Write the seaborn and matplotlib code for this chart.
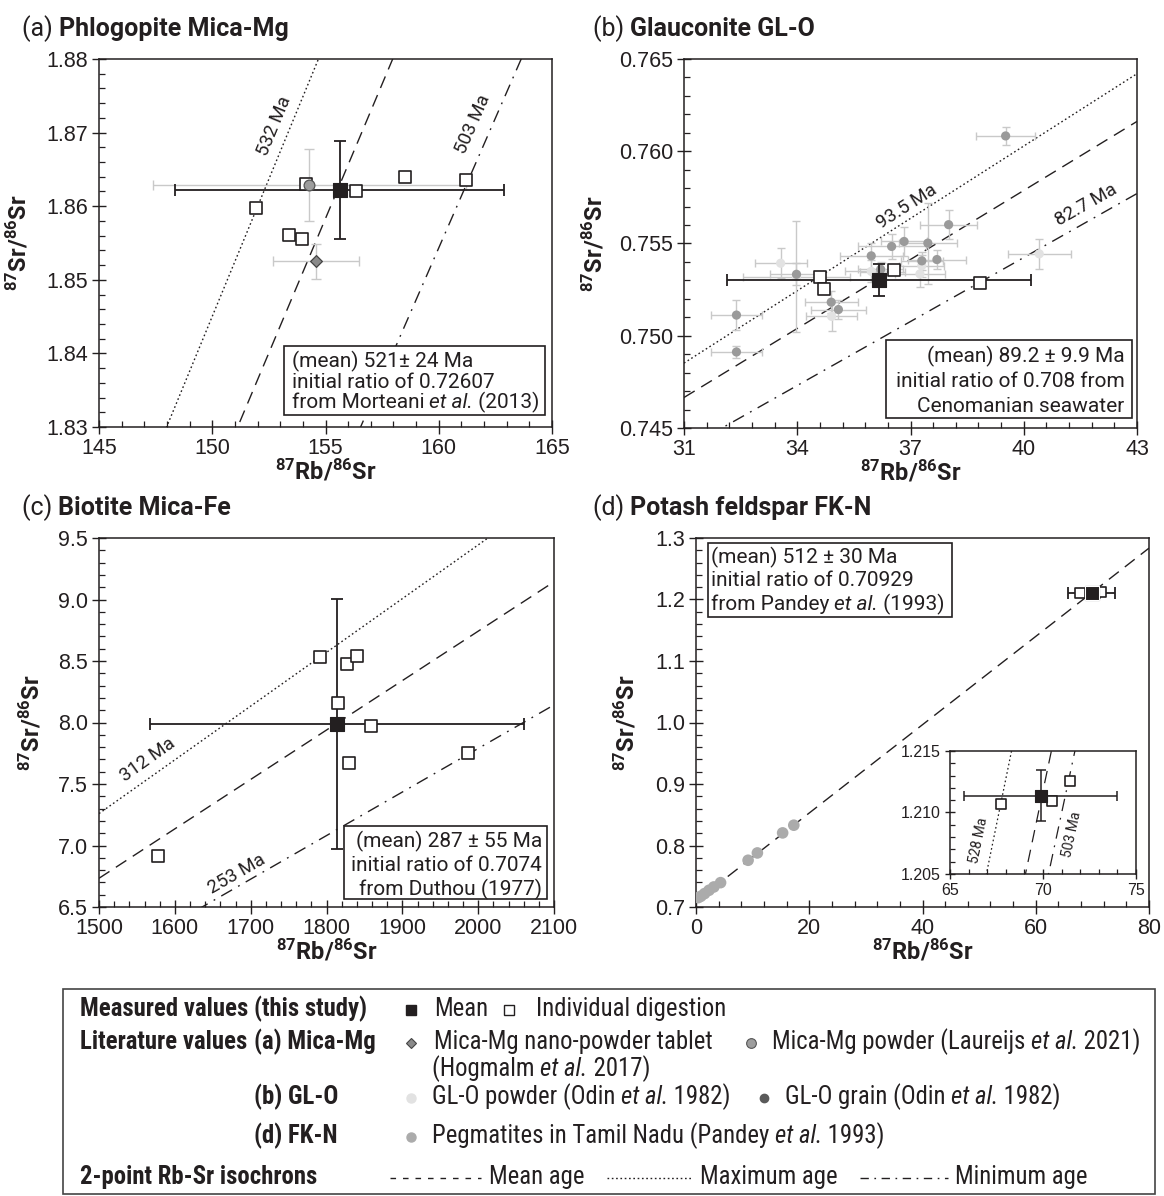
import numpy as np
import pandas as pd
import matplotlib
matplotlib.use("Agg")
import matplotlib.pyplot as plt
import seaborn as sns
from matplotlib.patches import Rectangle
from matplotlib.ticker import MultipleLocator, FormatStrFormatter
from matplotlib.transforms import IdentityTransform
from matplotlib import font_manager as fm

sns.set_theme(style="ticks")
plt.rcParams["font.family"] = ["Roboto", "DejaVu Sans"]
plt.rcParams["mathtext.fontset"] = "custom"
plt.rcParams["mathtext.rm"] = "Roboto"
plt.rcParams["mathtext.it"] = "Roboto:italic"
plt.rcParams["mathtext.bf"] = "Roboto:bold"
plt.rcParams["lines.scale_dashes"] = False
plt.rcParams["axes.linewidth"] = 1.1
plt.rcParams["axes.edgecolor"] = "#231f20"

INK = "#231f20"
LAMBDA = 1.397e-11  # 87Rb decay constant, 1/yr

# ---------------- data ----------------
# (a) Phlogopite Mica-Mg
a_ind_x = [151.91, 153.38, 153.95, 154.13, 156.33, 158.51, 161.22]
a_ind_y = [1.8598, 1.8561, 1.8555, 1.8630, 1.8620, 1.8640, 1.8636]
a_mean = [155.63, 1.8622, 7.27, 0.0067]        # x, y, xerr, yerr
a_powder = [154.29, 1.8629, 6.9, 0.0049]       # Laureijs et al. 2021
a_tablet = [154.6, 1.8525, 1.9, 0.0024]        # Hogmalm et al. 2017
a_r0 = 0.72607
a_ages = [521, 532, 503]                       # mean, max, min (Ma)

# (b) Glauconite GL-O
b_ind_x = [34.59, 34.72, 36.55, 38.83]
b_ind_y = [0.75320, 0.75251, 0.75357, 0.75288]
b_mean = [36.17, 0.75302, 4.02, 0.00088]
b_grain_x = [39.52, 38.01, 36.83, 36.50, 37.46, 35.96, 37.30, 37.70, 33.98, 34.90, 35.09, 32.39, 32.39, 36.21]
b_grain_y = [0.76083, 0.75602, 0.75511, 0.75484, 0.75502, 0.75433, 0.75406, 0.75413, 0.75333, 0.75182,
             0.75142, 0.75112, 0.74912, 0.75360]
b_grain_xerr = [0.79, 0.76, 0.60, 0.90, 0.77, 0.84, 0.55, 0.77, 0.70, 0.70, 0.72, 0.67, 0.67, 0.60]
b_grain_yerr = [0.0005, 0.0008, 0.0008, 0.0007, 0.0022, 0.0007, 0.0005, 0.0005, 0.0006, 0.0006,
                0.0005, 0.0008, 0.0003, 0.0004]
b_powder_x = [33.56, 33.98, 35.96, 37.25, 37.30, 34.91, 40.41, 36.25]
b_powder_y = [0.75393, 0.75320, 0.75349, 0.75335, 0.75380, 0.75105, 0.75444, 0.75345]
b_powder_xerr = [0.69, 1.43, 0.70, 0.67, 0.60, 0.68, 0.84, 0.60]
b_powder_yerr = [0.0008, 0.0030, 0.0006, 0.0007, 0.0006, 0.0008, 0.0008, 0.0005]
b_r0 = 0.708
b_ages = [89.2, 93.5, 82.7]

# (c) Biotite Mica-Fe
c_ind_x = [1790.9, 1827.6, 1840.8, 1814.9, 1858.9, 1829.6, 1987.0, 1577.8]
c_ind_y = [8.532, 8.478, 8.541, 8.157, 7.973, 7.670, 7.751, 6.911]
c_mean = [1813.9, 7.99, 247.0, 1.017]
c_r0 = 0.7074
c_ages = [287, 312, 253]

# (d) Potash feldspar FK-N
d_ind_x = [67.74, 70.47, 71.44]
d_ind_y = [1.21072, 1.21093, 1.21258]
d_mean = [69.87, 1.21137, 4.11, 0.00206]
d_peg_x = [17.27, 15.30, 10.84, 9.20, 4.34, 3.15, 2.30, 1.51, 0.85, 0.39]
d_peg_y = [0.8330, 0.8205, 0.7879, 0.7760, 0.7396, 0.7326, 0.7272, 0.7218, 0.7174, 0.7152]
d_r0 = 0.70929
d_ages = [512, 528, 503]

# ---------------- styles ----------------
LS = {"mean": (0, (9, 5.5)), "max": (0, (1.2, 1.9)), "min": (0, (9, 5.0, 1.3, 5.0))}
GRAY_ERR = "#c9c9c9"

W, H = 1164, 1196
fig = plt.figure(figsize=(W / 100, H / 100), dpi=100)
fig.patch.set_facecolor("white")

RECTS = {}


def ax_at(name, l, t, r, b, z=1):
    RECTS[name] = (l, t, r, b)
    return fig.add_axes([l / W, 1 - b / H, (r - l) / W, (b - t) / H], zorder=z)


axa = ax_at("a", 99, 59, 552, 427)
axb = ax_at("b", 684, 59, 1137, 428)
axc = ax_at("c", 99, 538, 554, 907)
axd = ax_at("d", 696, 538, 1149, 907)
axi = ax_at("i", 950, 751, 1136, 874, z=3)
ov = fig.add_axes([0, 0, 1, 1], zorder=-1)
ov.set_xlim(0, W)
ov.set_ylim(H, 0)
ov.axis("off")


def style(ax, xlim, ylim, xmaj, xmin, ymaj, ymin, xfmt, yfmt, size=15.5, majlen=10, minlen=4.5):
    ax.set_xlim(xlim)
    ax.set_ylim(ylim)
    ax.xaxis.set_major_locator(MultipleLocator(xmaj, offset=xlim[0] % xmaj))
    ax.xaxis.set_minor_locator(MultipleLocator(xmin, offset=round(xlim[0] % xmin, 6)))
    ax.yaxis.set_major_locator(MultipleLocator(ymaj))
    ax.yaxis.set_minor_locator(MultipleLocator(ymin))
    ax.xaxis.set_major_formatter(FormatStrFormatter(xfmt))
    ax.yaxis.set_major_formatter(FormatStrFormatter(yfmt))
    ax.tick_params(which="major", direction="inout", length=majlen, width=1.0, color=INK,
                   labelsize=size, labelcolor=INK, pad=3, labelfontfamily="Liberation Sans")
    ax.tick_params(which="minor", direction="in", length=minlen, width=0.9, color=INK)
    ax.tick_params(top=False, right=False, which="both")
    for s in ax.spines.values():
        s.set_linewidth(1.1)
        s.set_color(INK)
    ax.set_facecolor("white")


style(axa, (145, 165), (1.83, 1.88), 5, 1, 0.01, 0.002, "%d", "%.2f")
style(axb, (31, 43), (0.745, 0.765), 3, 0.6, 0.005, 0.001, "%d", "%.3f")
style(axc, (1500, 2100), (6.5, 9.5), 100, 20, 0.5, 0.1, "%d", "%.1f")
style(axd, (0, 80), (0.7, 1.3), 20, 4, 0.1, 0.02, "%d", "%.1f")
style(axi, (65, 75), (1.205, 1.215), 5, 1, 0.005, 0.001, "%d", "%.3f", size=11.5, majlen=7, minlen=3.5)

XL = r"$^{\mathbf{87}}$Rb/$^{\mathbf{86}}$Sr"
YL = r"$^{\mathbf{87}}$Sr/$^{\mathbf{86}}$Sr"
for ax, yx in [(axa, -0.150), (axb, -0.168), (axc, -0.121), (axd, -0.126)]:
    ax.set_xlabel(XL, fontsize=17, fontweight="bold", color=INK)
    ax.set_ylabel(YL, fontsize=17, fontweight="bold", color=INK)
    ax.xaxis.set_label_coords(0.5, -0.085)
    ax.yaxis.set_label_coords(yx, 0.5)


def isochrons(ax, r0, ages, kinds=("mean", "max", "min"), lw=1.0):
    xs = np.array(ax.get_xlim())
    for age, k in zip(ages, kinds):
        slope = np.expm1(LAMBDA * age * 1e6)
        ax.plot(xs, r0 + slope * xs, color=INK, lw=lw, linestyle=LS[k], zorder=2)


def line_label(ax, r0, age, x, y, size=13.5):
    slope = np.expm1(LAMBDA * age * 1e6)
    p0 = ax.transData.transform((x, r0 + slope * x))
    dx = (ax.get_xlim()[1] - ax.get_xlim()[0]) * 0.01
    p1 = ax.transData.transform((x + dx, r0 + slope * (x + dx)))
    ang = np.degrees(np.arctan2(p1[1] - p0[1], p1[0] - p0[0]))
    ax.text(x, y, f"{age:g} Ma", rotation=ang, rotation_mode="anchor", ha="center", va="center",
            fontsize=size, color=INK, zorder=3)


def errbar(ax, x, y, xerr, yerr, color, lw, cap, z):
    ax.errorbar(x, y, xerr=xerr, yerr=yerr, fmt="none", ecolor=color, elinewidth=lw,
                capsize=cap, capthick=lw, zorder=z)


def squares(ax, xs, ys, s=64):
    sns.scatterplot(x=xs, y=ys, ax=ax, marker="s", s=s, facecolor="white", edgecolor=INK,
                    linewidth=1.2, zorder=6, legend=False)


def mean_pt(ax, m, s=90, cap=4.3, lw=1.3):
    errbar(ax, m[0], m[1], m[2], m[3], INK, lw, cap, 5)
    sns.scatterplot(x=[m[0]], y=[m[1]], ax=ax, marker="s", s=s, color=INK, edgecolor=INK,
                    linewidth=0.8, zorder=7, legend=False)


def box(ax, x0, y0, x1, y1):
    ax.add_patch(Rectangle((x0, y0), x1 - x0, y1 - y0, transform=ax.transAxes, facecolor="white",
                           edgecolor=INK, lw=1.2, zorder=8))


# ---------------- rich text helper (pixel coords, origin top-left) ----------------
def rich(x, y, parts, size, family, ha="left", color=INK):
    r = fig.canvas.get_renderer()
    objs, widths = [], []
    for s, st in parts:
        kw = dict(fontsize=size, family=family, color=color,
                  fontweight="bold" if st == "b" else "normal",
                  fontstyle="italic" if st == "i" else "normal",
                  va="baseline", ha="left", transform=IdentityTransform(), zorder=10)
        t = fig.text(0, 0, s, **kw)
        p1 = fig.text(0, 0, s + "x", **kw)
        p2 = fig.text(0, 0, "x", **kw)
        w = p1.get_window_extent(r).width - p2.get_window_extent(r).width
        p1.remove()
        p2.remove()
        objs.append(t)
        widths.append(w)
    x0 = x - sum(widths) if ha == "right" else x
    for t, w in zip(objs, widths):
        t.set_position((x0, H - y))
        x0 += w


TF = ["Roboto", "DejaVu Sans"]
BOX_SIZE = 15


def box_lines(name, fx, fys, lines, ha, size=BOX_SIZE):
    l, t, r, b = RECTS[name]
    x = l + fx * (r - l)
    for fy, parts in zip(fys, lines):
        yc = t + (1 - fy) * (b - t)
        rich(x, yc + 0.36 * size * 100 / 72, parts, size, TF, ha=ha)


# ---- (a)
isochrons(axa, a_r0, a_ages)
line_label(axa, a_r0, a_ages[1], 152.75, 1.8709)
line_label(axa, a_r0, a_ages[2], 161.5, 1.8711)
errbar(axa, a_powder[0], a_powder[1], a_powder[2], a_powder[3], GRAY_ERR, 1.0, 3.5, 3)
errbar(axa, a_tablet[0], a_tablet[1], a_tablet[2], a_tablet[3], GRAY_ERR, 1.0, 3.5, 3)
mean_pt(axa, a_mean)
squares(axa, a_ind_x, a_ind_y)
sns.scatterplot(x=[a_powder[0]], y=[a_powder[1]], ax=axa, marker="o", s=60, facecolor="#9d9d9d",
                edgecolor="#555555", linewidth=0.9, zorder=6.5, legend=False)
sns.scatterplot(x=[a_tablet[0]], y=[a_tablet[1]], ax=axa, marker="D", s=36, facecolor="#8a8a8a",
                edgecolor="#444444", linewidth=0.9, zorder=6.5, legend=False)
box(axa, 0.409, 0.032, 0.984, 0.221)
box_lines("a", 0.425, [0.182, 0.127, 0.072],
          [[("(mean) 521± 24 Ma", "n")], [("initial ratio of 0.72607", "n")],
           [("from Morteani ", "n"), ("et al.", "i"), (" (2013)", "n")]], "left")

# ---- (b)
isochrons(axb, b_r0, b_ages)
line_label(axb, b_r0, b_ages[1], 36.9, 0.75701)
line_label(axb, b_r0, b_ages[2], 41.65, 0.75707)
errbar(axb, b_powder_x, b_powder_y, b_powder_xerr, b_powder_yerr, GRAY_ERR, 1.0, 3.0, 3)
errbar(axb, b_grain_x, b_grain_y, b_grain_xerr, b_grain_yerr, GRAY_ERR, 1.0, 3.0, 3)
sns.scatterplot(x=b_powder_x, y=b_powder_y, ax=axb, marker="o", s=44, color="#e2e2e2",
                edgecolor="none", zorder=4, legend=False)
sns.scatterplot(x=b_grain_x, y=b_grain_y, ax=axb, marker="o", s=44, color="#9a9a9a",
                edgecolor="none", zorder=4.5, legend=False)
mean_pt(axb, b_mean)
squares(axb, b_ind_x, b_ind_y)
box(axb, 0.447, 0.027, 0.988, 0.238)
box_lines("b", 0.972, [0.197, 0.131, 0.065],
          [[("(mean) 89.2 ± 9.9 Ma", "n")], [("initial ratio of 0.708 from", "n")],
           [("Cenomanian seawater", "n")]], "right")

# ---- (c)
isochrons(axc, c_r0, c_ages)
line_label(axc, c_r0, c_ages[1], 1564.5, 7.70)
line_label(axc, c_r0, c_ages[2], 1682, 6.77)
mean_pt(axc, c_mean)
squares(axc, c_ind_x, c_ind_y)
box(axc, 0.538, 0.021, 0.984, 0.219)
box_lines("c", 0.974, [0.183, 0.117, 0.053],
          [[("(mean) 287 ± 55 Ma", "n")], [("initial ratio of 0.7074", "n")],
           [("from Duthou (1977)", "n")]], "right")

# ---- (d)
isochrons(axd, d_r0, d_ages[:1], kinds=("mean",))
sns.scatterplot(x=d_peg_x, y=d_peg_y, ax=axd, marker="o", s=70, color="#ababab",
                edgecolor="none", zorder=4, legend=False)
mean_pt(axd, d_mean)
squares(axd, d_ind_x, d_ind_y, s=50)
sns.scatterplot(x=[d_mean[0]], y=[d_mean[1]], ax=axd, marker="s", s=90, color=INK, zorder=7, legend=False)
box(axd, 0.0255, 0.787, 0.565, 0.986)
box_lines("d", 0.033, [0.952, 0.889, 0.824],
          [[("(mean) 512 ± 30 Ma", "n")], [("initial ratio of 0.70929", "n")],
           [("from Pandey ", "n"), ("et al.", "i"), (" (1993)", "n")]], "left")

# ---- inset
isochrons(axi, d_r0, d_ages, lw=0.9)
line_label(axi, d_r0, d_ages[1], 66.55, 1.20776, size=10)
line_label(axi, d_r0, d_ages[2], 71.55, 1.20818, size=10)
mean_pt(axi, d_mean, s=70, cap=3.5, lw=1.1)
squares(axi, d_ind_x, d_ind_y, s=44)

# titles
for (x, y, tag, name) in [(22, 36, "(a) ", "Phlogopite Mica-Mg"), (593, 36, "(b) ", "Glauconite GL-O"),
                          (22, 515, "(c) ", "Biotite Mica-Fe"), (593, 515, "(d) ", "Potash feldspar FK-N")]:
    rich(x, y, [(tag, "n"), (name, "b")], 18, TF)

# ---------------- legend ----------------
names = {f.name for f in fm.fontManager.ttflist}
LEG = next((n for n in ["Roboto Condensed", "Liberation Sans Narrow", "Open Sans Condensed"] if n in names), "Roboto")
LF = [LEG, "DejaVu Sans"]
_r = fig.canvas.get_renderer()
_t = fig.text(0, 0, "Individual digestion", fontsize=10, family=LF)
LSZ = 10 * 189 / _t.get_window_extent(_r).width
_t.remove()

ov.add_patch(Rectangle((63, 989), 1155 - 63, 1194 - 989, facecolor="white", edgecolor="#444444", lw=1.2))
bl = 6  # baseline offset from row centre
rows = [1010, 1043, 1070, 1098, 1137, 1178]
rich(80, rows[0] + bl, [("Measured values (this study)", "b")], LSZ, LF)
ov.plot([411], [rows[0]], marker="s", ms=7.5, color=INK, ls="none")
rich(434, rows[0] + bl, [("Mean", "n")], LSZ, LF)
ov.plot([509], [rows[0]], marker="s", ms=6.5, mfc="white", mec=INK, mew=1.0, ls="none")
rich(536, rows[0] + bl, [("Individual digestion", "n")], LSZ, LF)

rich(80, rows[1] + bl, [("Literature values", "b")], LSZ, LF)
rich(254, rows[1] + bl, [("(a) Mica-Mg", "b")], LSZ, LF)
ov.plot([411], [rows[1]], marker="D", ms=5.5, mfc="#8a8a8a", mec="#444444", mew=0.8, ls="none")
rich(434, rows[1] + bl, [("Mica-Mg nano-powder tablet", "n")], LSZ, LF)
ov.plot([751], [rows[1]], marker="o", ms=7, mfc="#9d9d9d", mec="#555555", mew=0.8, ls="none")
rich(772, rows[1] + bl, [("Mica-Mg powder (Laureijs ", "n"), ("et al.", "i"), (" 2021)", "n")], LSZ, LF)
rich(432, rows[2] + bl, [("(Hogmalm ", "n"), ("et al.", "i"), (" 2017)", "n")], LSZ, LF)

rich(254, rows[3] + bl, [("(b) GL-O", "b")], LSZ, LF)
ov.plot([411], [rows[3]], marker="o", ms=6.5, color="#e2e2e2", ls="none")
rich(432, rows[3] + bl, [("GL-O powder (Odin ", "n"), ("et al.", "i"), (" 1982)", "n")], LSZ, LF)
ov.plot([764], [rows[3]], marker="o", ms=6, color="#5a5a5a", ls="none")
rich(785, rows[3] + bl, [("GL-O grain (Odin ", "n"), ("et al.", "i"), (" 1982)", "n")], LSZ, LF)

rich(254, rows[4] + bl, [("(d) FK-N", "b")], LSZ, LF)
ov.plot([411], [rows[4]], marker="o", ms=6.5, color="#ababab", ls="none")
rich(432, rows[4] + bl, [("Pegmatites in Tamil Nadu (Pandey ", "n"), ("et al.", "i"), (" 1993)", "n")], LSZ, LF)

rich(80, rows[5] + bl, [("2-point Rb-Sr isochrons", "b")], LSZ, LF)
ov.plot([390, 481], [rows[5]] * 2, color=INK, lw=1.0, ls=(0, (4.0, 5.0)))
rich(489, rows[5] + bl, [("Mean age", "n")], LSZ, LF)
ov.plot([607, 692], [rows[5]] * 2, color=INK, lw=1.0, ls=LS["max"])
rich(700, rows[5] + bl, [("Maximum age", "n")], LSZ, LF)
ov.plot([860, 948], [rows[5]] * 2, color=INK, lw=1.0, ls=(0, (6, 4, 1.2, 4)))
rich(955, rows[5] + bl, [("Minimum age", "n")], LSZ, LF)

fig.savefig("out.png", dpi=100, facecolor="white")
